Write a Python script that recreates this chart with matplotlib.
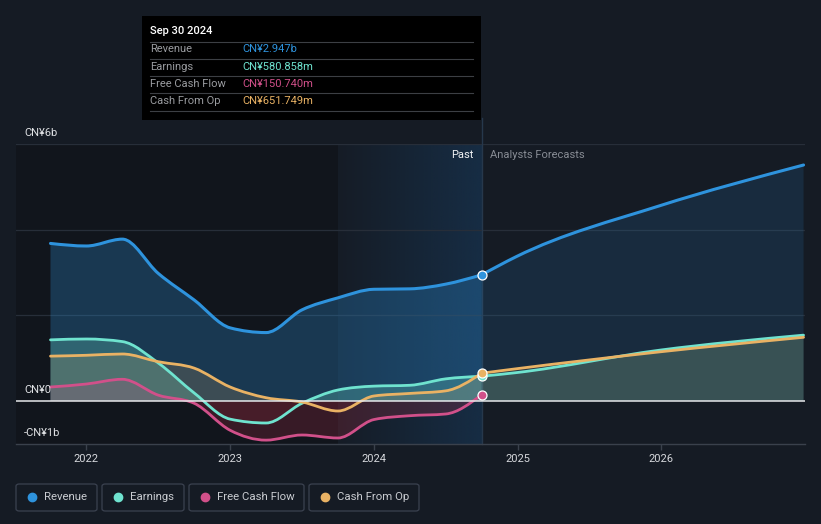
import matplotlib

matplotlib.use("Agg")
import matplotlib.pyplot as plt
import numpy as np
from matplotlib.patches import FancyBboxPatch, PathPatch, Rectangle
from matplotlib.path import Path

plt.rcParams["font.family"] = ["Roboto", "DejaVu Sans"]

# --- data (CN¥ billions, decimal years) ---
past_dates = [2021.75, 2022.0, 2022.25, 2022.5, 2022.75, 2023.0, 2023.25,
              2023.5, 2023.75, 2024.0, 2024.25, 2024.5, 2024.75]
revenue_past = [3.68, 3.62, 3.78, 2.98, 2.36, 1.71, 1.60, 2.13, 2.41, 2.61, 2.62, 2.73, 2.947]
earnings_past = [1.43, 1.45, 1.39, 0.89, 0.19, -0.42, -0.51, -0.05, 0.26, 0.35, 0.37, 0.52, 0.581]
fcf_past = [0.33, 0.40, 0.51, 0.14, -0.05, -0.68, -0.91, -0.79, -0.86, -0.43, -0.34, -0.30, 0.151]
cashop_past = [1.05, 1.07, 1.10, 0.92, 0.77, 0.33, 0.08, -0.02, -0.23, 0.12, 0.18, 0.24, 0.652]

fc_dates = [2024.75, 2024.99, 2025.99, 2026.99]
revenue_fc = [2.947, 3.37, 4.56, 5.51]
earnings_fc = [0.581, 0.665, 1.19, 1.54]
cashop_fc = [0.652, 0.755, 1.15, 1.49]

year_ticks = [2022, 2023, 2024, 2025, 2026]
y_labels = {6: "CN¥6b", 0: "CN¥0", -1: "-CN¥1b"}

tooltip_rows = [
    ("Revenue", "CN¥2.947b", "#2e93dd"),
    ("Earnings", "CN¥580.858m", "#6fe3cf"),
    ("Free Cash Flow", "CN¥150.740m", "#d1508a"),
    ("Cash From Op", "CN¥651.749m", "#e9b264"),
]

C_REV = "#2e93dd"
C_EARN = "#6fe3cf"
C_FCF = "#d1508a"
C_CASH = "#e9b264"
BG = "#151b24"

W, H = 821, 524


def fx(p):
    return p / W


def fy(p):
    return 1 - p / H


def smooth(xs, ys):
    # monotone cubic (same rule as d3 curveMonotoneX) as bezier segments
    x = np.asarray(xs, float)
    y = np.asarray(ys, float)
    n = len(x)
    h = np.diff(x)
    s = np.diff(y) / h
    m = np.zeros(n)
    for i in range(1, n - 1):
        p = (s[i - 1] * h[i] + s[i] * h[i - 1]) / (h[i - 1] + h[i])
        m[i] = (np.sign(s[i - 1]) + np.sign(s[i])) * min(abs(s[i - 1]), abs(s[i]), 0.5 * abs(p))
    if n > 2:
        m[0] = (3 * s[0] - m[1]) / 2
        m[-1] = (3 * s[-1] - m[-2]) / 2
    else:
        m[:] = s[0]
    verts = [(x[0], y[0])]
    codes = [Path.MOVETO]
    for i in range(n - 1):
        d = h[i] / 3
        verts += [(x[i] + d, y[i] + m[i] * d), (x[i + 1] - d, y[i + 1] - m[i + 1] * d),
                  (x[i + 1], y[i + 1])]
        codes += [Path.CURVE4] * 3
    return verts, codes


def draw_series(ax, xs, ys, color, lw, pos_fill, neg_fill, z):
    verts, codes = smooth(xs, ys)
    fverts = verts + [(xs[-1], 0), (xs[0], 0), (xs[0], 0)]
    fcodes = codes + [Path.LINETO, Path.LINETO, Path.CLOSEPOLY]
    for fill, (y0, y1) in ((pos_fill, (0, 20)), (neg_fill, (-20, 0))):
        if fill is None:
            continue
        p = PathPatch(Path(fverts, fcodes), facecolor=fill[0], alpha=fill[1],
                      edgecolor="none", zorder=z)
        ax.add_patch(p)
        clip = Rectangle((2000, y0), 50, y1 - y0, transform=ax.transData)
        p.set_clip_path(clip)
    ax.add_patch(PathPatch(Path(verts, codes), facecolor="none", edgecolor=color,
                           lw=lw, zorder=z + 5, capstyle="round", joinstyle="round"))


fig = plt.figure(figsize=(W / 100, H / 100), dpi=100, facecolor=BG)
ax = fig.add_axes([fx(16), fy(444), fx(805) - fx(16), (444 - 144) / H])
ax.set_facecolor(BG)
x0, x1 = 2021.51, 2027.0

# background regions
ax.axvspan(x0, 2023.75, color="#11151c", zorder=0, lw=0)
grad = np.zeros((1, 200, 4))
grad[..., 0] = 0x17 / 255
grad[..., 1] = 0x33 / 255
grad[..., 2] = 0x4f / 255
grad[..., 3] = np.linspace(0.05, 0.75, 200)
ax.imshow(grad, extent=[2023.75, 2024.75, -1, 6], aspect="auto", zorder=0.5,
          interpolation="bilinear")
ax.set_xlim(x0, x1)
ax.set_ylim(-1, 6)

for g in (2, 4, 6):
    ax.axhline(g, color="#272e39", lw=0.9, zorder=1)

# series
draw_series(ax, past_dates, revenue_past, C_REV, 2.2, (C_REV, 0.28), None, 2)
draw_series(ax, fc_dates, revenue_fc, C_REV, 2.2, (C_REV, 0.14), None, 2)
draw_series(ax, past_dates, earnings_past, C_EARN, 2.0, (C_EARN, 0.26), ("#c0304a", 0.12), 3)
draw_series(ax, fc_dates, earnings_fc, C_EARN, 2.0, (C_EARN, 0.15), None, 3)
draw_series(ax, past_dates, cashop_past, C_CASH, 2.0, (C_CASH, 0.17), ("#c0304a", 0.10), 3.2)
draw_series(ax, fc_dates, cashop_fc, C_CASH, 2.0, (C_CASH, 0.10), None, 3.2)
draw_series(ax, past_dates, fcf_past, C_FCF, 2.0, (C_FCF, 0.18), ("#c0304a", 0.22), 3.4)

ax.axhline(0, color="#e6e8eb", lw=1.1, zorder=9)

# markers at last reported point
for series, c in ((revenue_past, C_REV), (earnings_past, C_EARN),
                  (fcf_past, C_FCF), (cashop_past, C_CASH)):
    ax.scatter([past_dates[-1]], [series[-1]], s=42, color=c, edgecolor="white",
               linewidth=0.9, zorder=12)

# divider line at the last reported date
ax.plot([2024.75, 2024.75], [-1, 6.6], color="#26384c", lw=1, zorder=1,
        clip_on=False)

ax.text(2024.69, 5.75, "Past", color="#f0f2f4", fontsize=8, ha="right", va="center")
ax.text(2024.81, 5.75, "Analysts Forecasts", color="#878c94", fontsize=8,
        ha="left", va="center")

for v, lab in y_labels.items():
    ax.text(2021.566, v + 0.15, lab, color="#e0e2e5", fontsize=8, ha="left",
            va="bottom", zorder=13)

for s in ("top", "right", "left"):
    ax.spines[s].set_visible(False)
ax.spines["bottom"].set_color("#3a414c")
ax.spines["bottom"].set_linewidth(1)
ax.set_yticks([])
ax.set_xticks(year_ticks)
ax.set_xticklabels([str(y) for y in year_ticks])
ax.tick_params(axis="x", colors="#3a414c", length=4, width=1, pad=3,
               labelcolor="#d6d8dc", labelsize=8)

# tooltip
fig.patches.append(Rectangle((fx(142), fy(120)), fx(481) - fx(142), (120 - 16) / H,
                             transform=fig.transFigure, facecolor="#000000",
                             edgecolor="none", zorder=20))
fig.text(fx(150), fy(31), "Sep 30 2024", color="white", fontsize=8,
         fontweight="medium", va="center", ha="left", zorder=21)
for sep in (41.5, 58.5, 76, 93, 110.5):
    fig.add_artist(plt.Line2D([fx(150), fx(473)], [fy(sep), fy(sep)],
                              transform=fig.transFigure, color="#3c3f44", lw=0.8,
                              zorder=21))
for (label, value, c), yy in zip(tooltip_rows, (49, 66.5, 84, 101)):
    fig.text(fx(150), fy(yy), label, color="#9a9ca0", fontsize=8,
             va="center", ha="left", zorder=21)
    t = fig.text(fx(242), fy(yy), value, color=c, fontsize=8, va="center",
                 ha="left", zorder=21)
    ax.annotate("/yr", xy=(1, 0.5), xycoords=t, xytext=(2.5, 0),
                textcoords="offset points", va="center", ha="left",
                color="#9a9ca0", fontsize=8, annotation_clip=False, zorder=21)

# legend
legend_items = [("Revenue", C_REV, 16, 97), ("Earnings", C_EARN, 102, 184),
                ("Free Cash Flow", C_FCF, 189, 304), ("Cash From Op", C_CASH, 309, 419)]
for label, c, lx0, lx1 in legend_items:
    fig.patches.append(FancyBboxPatch((fx(lx0), fy(511)), fx(lx1) - fx(lx0),
                                      (511 - 484) / H,
                                      boxstyle="round,pad=0,rounding_size=0.004",
                                      transform=fig.transFigure, facecolor=BG,
                                      edgecolor="#3b4250", lw=0.9))
    fig.add_artist(plt.Line2D([fx(lx0 + 16)], [fy(497)], marker="o", markersize=6,
                              color=c, transform=fig.transFigure, lw=0))
    fig.text(fx(lx0 + 28), fy(497), label, color="#c9ccd1", fontsize=8.2,
             va="center", ha="left")

fig.savefig("out.png", dpi=100, facecolor=BG)
